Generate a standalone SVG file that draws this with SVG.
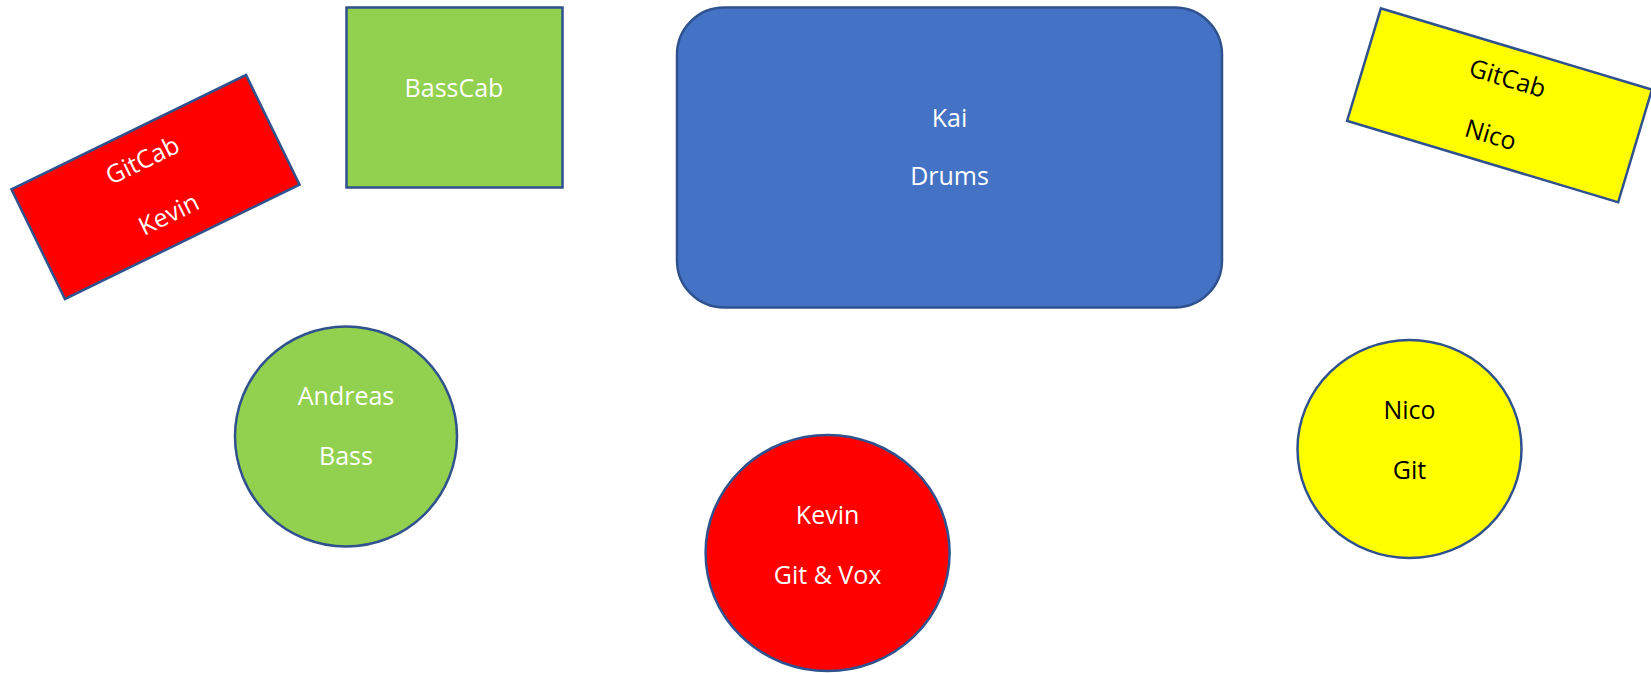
<svg xmlns="http://www.w3.org/2000/svg" width="1651" height="673" viewBox="0 0 1651 673">
<style>
.shape{stroke:#2F528F;stroke-width:2.5}
.lbl{font-family:"Open Sans","Noto Sans","DejaVu Sans",sans-serif;font-size:25px;text-anchor:middle}
.w{fill:#FFFFFF}
.k{fill:#000000}
</style>
<rect width="1651" height="673" fill="#FFFFFF"/>
<g id="connectors"></g>
<g id="gitcab-kevin" transform="translate(155.5,187) rotate(-26)">
<rect class="shape" x="-130.5" y="-61" width="261" height="122" fill="#FF0000"/>
<text class="lbl w" x="0" y="-21">GitCab</text>
<text class="lbl w" x="0" y="39">Kevin</text>
</g>
<g id="basscab">
<rect class="shape" x="346.5" y="7.5" width="216" height="180" fill="#92D050"/>
<text class="lbl w" x="454" y="97">BassCab</text>
</g>
<g id="kai-drums">
<rect class="shape" x="677" y="7.5" width="545" height="300" rx="47" ry="47" fill="#4472C4"/>
<text class="lbl w" x="949.5" y="127">Kai</text>
<text class="lbl w" x="949.5" y="185">Drums</text>
</g>
<g id="gitcab-nico" transform="translate(1499.5,105.3) rotate(16.7)">
<rect class="shape" x="-141.5" y="-58.75" width="283" height="117.5" fill="#FFFF00"/>
<text class="lbl k" x="0" y="-19.5">GitCab</text>
<text class="lbl k" x="0" y="39.5">Nico</text>
</g>
<g id="andreas-bass">
<ellipse class="shape" cx="346" cy="436.5" rx="111" ry="110" fill="#92D050"/>
<text class="lbl w" x="346" y="405">Andreas</text>
<text class="lbl w" x="346" y="465">Bass</text>
</g>
<g id="kevin-gitvox">
<ellipse class="shape" cx="827.6" cy="553" rx="122" ry="118" fill="#FF0000"/>
<text class="lbl w" x="827.6" y="524">Kevin</text>
<text class="lbl w" x="827.6" y="583.5">Git &amp; Vox</text>
</g>
<g id="nico-git">
<ellipse class="shape" cx="1409.5" cy="449" rx="112" ry="109" fill="#FFFF00"/>
<text class="lbl k" x="1409.5" y="418.5">Nico</text>
<text class="lbl k" x="1409.5" y="478.5">Git</text>
</g>
</svg>
